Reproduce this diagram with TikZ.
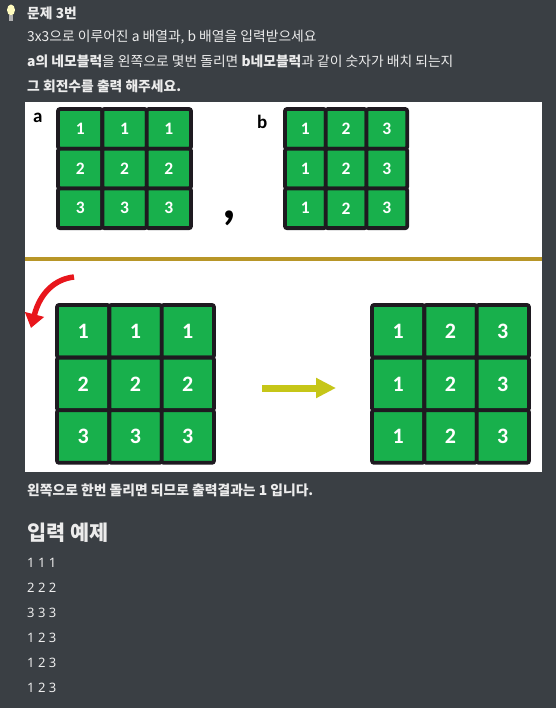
\documentclass[tikz,border=0pt]{standalone}
\usepackage{fontspec}
\setmainfont{Noto Sans CJK KR}
\newfontfamily\numfont{Carlito}
\newfontfamily\codefont{Noto Sans}
\usetikzlibrary{positioning,arrows.meta}
\definecolor{pagebg}{RGB}{58,63,68}
\definecolor{blockgreen}{RGB}{24,176,76}
\definecolor{blockedge}{RGB}{30,26,32}
\definecolor{goldline}{RGB}{184,150,40}
\definecolor{turnred}{RGB}{232,22,28}
\definecolor{arrowyellow}{RGB}{198,198,24}
\definecolor{txt}{RGB}{236,236,236}
\tikzset{cell/.style={draw=blockedge,fill=blockgreen,line width=3.8pt,rounded corners=2pt,outer sep=0pt,inner sep=0pt,
		minimum width=44.3pt,minimum height=39.7pt,text=white,font=\numfont\bfseries\fontsize{17.5}{17.5}\selectfont},
	 bcell/.style={cell,minimum width=40.7pt},
	 bigcell/.style={cell,minimum width=52.3pt,minimum height=52.6pt,font=\numfont\bfseries\fontsize{22}{22}\selectfont},
	 line/.style={anchor=west,inner sep=0pt,text=txt,font=\fontsize{13.8}{13.8}\selectfont},
	 sample/.style={anchor=west,inner sep=0pt,text=txt,font=\codefont\fontsize{13}{13}\selectfont},
	 node distance = 0pt
	 }
\begin{document}
\begin{tikzpicture}[x=1pt,y=-1pt]
	\useasboundingbox (0,0) rectangle (556,708);
	\fill[pagebg] (0,0) rectangle (556,708);
	% bulb
	\fill[yellow!25!white] (11,10) ellipse (4 and 5.5);
	\fill[gray!60!white] (9,15) rectangle (13,21);
	\node[line,font=\bfseries\fontsize{13.8}{13.8}\selectfont] (title) at (27,13) {문제 3번};
	\node[line] (l1) at (27,37) {3x3으로 이루어진 a 배열과, b 배열을 입력받으세요};
	\node[line] (l2) at (27,61) {\textbf{a의 네모블럭}을 왼쪽으로 몇번 돌리면 \textbf{b네모블럭}과 같이 숫자가 배치 되는지};
	\node[line,font=\bfseries\fontsize{13.8}{13.8}\selectfont] (l3) at (27,86) {그 회전수를 출력 해주세요.};

	% picture
	\fill[white] (25,102) rectangle (542,472);
	\fill[goldline] (25,257) rectangle (542,261);
	\node[anchor=base west,inner sep=0pt,font=\numfont\bfseries\fontsize{19}{19}\selectfont] (la) at (33,123) {a};
	\node[anchor=base west,inner sep=0pt,font=\numfont\bfseries\fontsize{19}{19}\selectfont] (lb) at (257,129) {b};
	\node[anchor=base west,inner sep=0pt,font=\numfont\bfseries\fontsize{54}{54}\selectfont] (comma) at (222,219) {,};

	\node[cell] (a11) at (80.2,128.9) {1};
	\node[cell] (a12) [right=of a11] {1};
	\node[cell] (a13) [right=of a12] {1};
	\node[cell] (a21) [below=of a11] {2};
	\node[cell] (a22) [right=of a21] {2};
	\node[cell] (a23) [right=of a22] {2};
	\node[cell] (a31) [below=of a21] {3};
	\node[cell] (a32) [right=of a31] {3};
	\node[cell] (a33) [right=of a32] {3};

	\node[bcell] (b11) at (305.4,128.9) {1};
	\node[bcell] (b12) [right=of b11] {2};
	\node[bcell] (b13) [right=of b12] {3};
	\node[bcell] (b21) [below=of b11] {1};
	\node[bcell] (b22) [right=of b21] {2};
	\node[bcell] (b23) [right=of b22] {3};
	\node[bcell] (b31) [below=of b21] {1};
	\node[bcell] (b32) [right=of b31] {2};
	\node[bcell] (b33) [right=of b32] {3};

	\node[bigcell] (c11) at (83.2,331.3) {1};
	\node[bigcell] (c12) [right=of c11] {1};
	\node[bigcell] (c13) [right=of c12] {1};
	\node[bigcell] (c21) [below=of c11] {2};
	\node[bigcell] (c22) [right=of c21] {2};
	\node[bigcell] (c23) [right=of c22] {2};
	\node[bigcell] (c31) [below=of c21] {3};
	\node[bigcell] (c32) [right=of c31] {3};
	\node[bigcell] (c33) [right=of c32] {3};

	\node[bigcell] (d11) at (398.2,331.3) {1};
	\node[bigcell] (d12) [right=of d11] {2};
	\node[bigcell] (d13) [right=of d12] {3};
	\node[bigcell] (d21) [below=of d11] {1};
	\node[bigcell] (d22) [right=of d21] {2};
	\node[bigcell] (d23) [right=of d22] {3};
	\node[bigcell] (d31) [below=of d21] {1};
	\node[bigcell] (d32) [right=of d31] {2};
	\node[bigcell] (d33) [right=of d32] {3};

	\coordinate (turn0) at (74,277);
	\coordinate (turn1) at (31,328);
	\draw[turnred,line width=5.5pt,-{Triangle[width=19pt,length=14pt]}] (turn0) .. controls (55,279) and (40,293) .. (turn1);
	\coordinate (go0) at (262,388);
	\coordinate (go1) at (336,388);
	\draw[arrowyellow,line width=7pt,-{Triangle[width=19pt,length=20pt]}] (go0) -- (go1);

	% below
	\node[line,font=\bfseries\fontsize{13.8}{13.8}\selectfont] (res) at (27,490) {왼쪽으로 한번 돌리면 되므로 출력결과는 1 입니다.};
	\node[line,font=\bfseries\fontsize{20.8}{20.8}\selectfont] (head) at (27,533) {입력 예제};
	\node[sample] (s1) at (27,563) {1 1 1};
	\node[sample] (s2) at (27,588) {2 2 2};
	\node[sample] (s3) at (27,613) {3 3 3};
	\node[sample] (s4) at (27,638) {1 2 3};
	\node[sample] (s5) at (27,663) {1 2 3};
	\node[sample] (s6) at (27,688) {1 2 3};
\end{tikzpicture}
\end{document}
